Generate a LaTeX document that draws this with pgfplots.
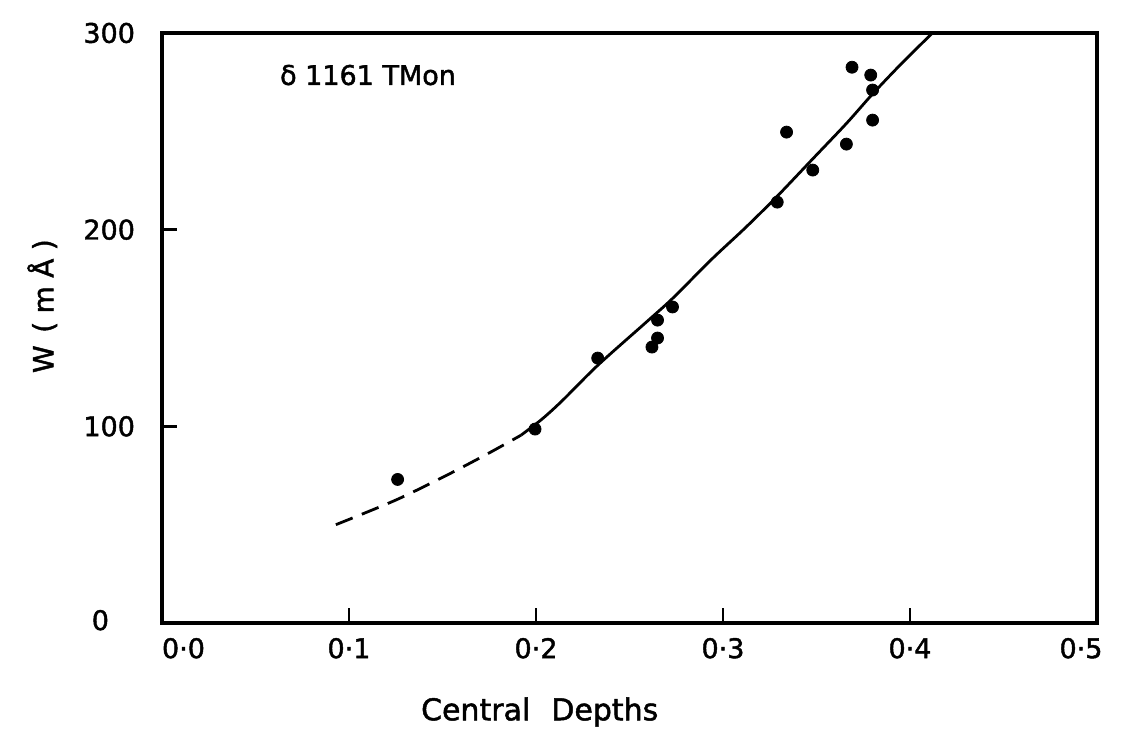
\documentclass[border=0pt]{standalone}
\usepackage{fontspec}
\setmainfont{DejaVu Sans}[FakeBold=1.6]
\usepackage{pgfplots}
\pgfplotsset{compat=1.18}

\begin{document}
\begin{tikzpicture}
\begin{axis}[
  name=ax,
  scale only axis,
  width=467.5bp, height=295bp,
  xmin=0, xmax=0.5, ymin=0, ymax=300,
  axis line style={line width=1.7bp},
  xtick={0,0.1,0.2,0.3,0.4,0.5},
  xticklabels={\makebox[0pt][l]{0·0},0·1,0·2,0·3,0·4,\hspace*{-16bp}0·5},
  ytick={0,100,200,300},
  yticklabels={\raisebox{3bp}{0}\hspace*{13bp},100,200,300},
  xtick pos=bottom, ytick pos=left,
  tick align=inside,
  major tick length=7.5bp,
  tick style={line width=1.2bp, black},
  every tick label/.append style={font=\fontsize{13.5bp}{16bp}\selectfont},
  xticklabel style={yshift=-4bp},
  yticklabel style={xshift=-10bp},
  xlabel={Central\hspace{0.7em}Depths},
  ylabel={W\hspace{0.45em}(\hspace{0.3em}m\hspace{0.3em}Å\hspace{0.3em})},
  xlabel style={font=\fontsize{15bp}{18bp}\selectfont, at={(axis description cs:0.404,0)}, anchor=center, yshift=-44.5bp},
  ylabel style={font=\fontsize{14bp}{17bp}\selectfont, at={(axis description cs:-0.128,0.537)}, anchor=center},
  clip=false,
]
% fitted curve: dashed extrapolation and solid part
\addplot[black, line width=1.4bp, dash pattern=on 9bp off 5bp, smooth] coordinates {
  (0.093,50) (0.125,62.5) (0.152,75) (0.175,86.5) (0.192,95.5)
};
\addplot[black, line width=1.4bp, smooth] coordinates {
  (0.192,95.5) (0.203,103.5) (0.214,113) (0.233,131) (0.259,153) (0.273,165) (0.294,185)
  (0.312,201) (0.329,217) (0.348,236) (0.366,254) (0.380,269) (0.395,284) (0.412,300)
};
% measured equivalent widths
\addplot[only marks, mark=*, mark size=3bp, black] coordinates {
  (0.126,73) (0.1995,98.6) (0.233,134.7) (0.262,140.3) (0.265,144.9)
  (0.265,154.0) (0.273,160.7) (0.329,214) (0.334,249.6) (0.348,230.3)
  (0.366,243.5) (0.369,282.6) (0.379,278.6) (0.380,271) (0.380,255.7)
};
\node[anchor=west, font=\fontsize{13.5bp}{16bp}\selectfont] at (axis cs:0.0594,278.6) {δ 1161 TMon};
\end{axis}
\pgfresetboundingbox
\path ([shift={(-81bp,-55bp)}]ax.south west) rectangle ([shift={(492.5bp,311.5bp)}]ax.south west);
\end{tikzpicture}
\end{document}
